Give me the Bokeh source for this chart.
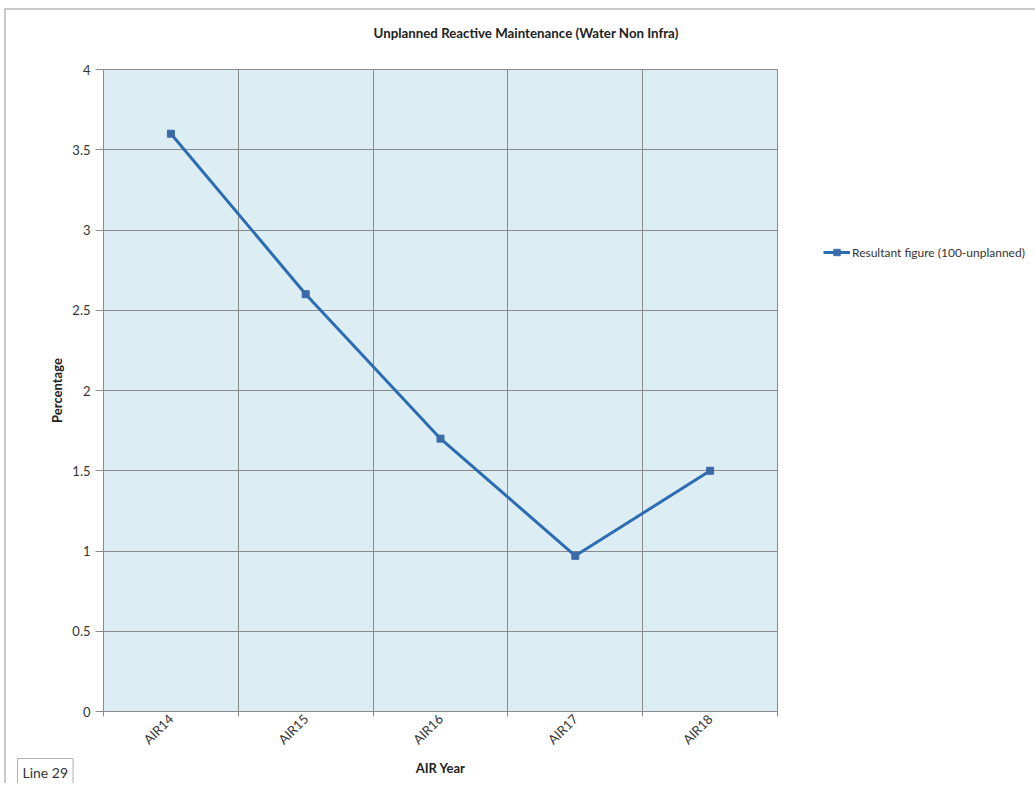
import math
from bokeh.plotting import figure
from bokeh.models import (Range1d, FixedTicker, NumeralTickFormatter, Legend, LegendItem, Title)
from bokeh.embed import file_html
from bokeh.resources import INLINE

categories = ["AIR14", "AIR15", "AIR16", "AIR17", "AIR18"]
resultant = [3.6, 2.6, 1.7, 0.97, 1.5]
y_ticks = [0, 0.5, 1, 1.5, 2, 2.5, 3, 3.5, 4]

FONT = "Lato"
GRID = "#8a8a8a"
LINE = "#2b6cb3"

p = figure(frame_width=674, frame_height=642, output_backend="svg", toolbar_location=None,
           x_range=Range1d(0, len(categories)), y_range=Range1d(0, 4),
           min_border_left=97, min_border_right=252, min_border_top=59, min_border_bottom=72,
           border_fill_color="white")
p.styles = {"border-top": "2px solid #c9c9c9", "border-left": "2px solid #c9c9c9",
            "margin-left": "4px", "margin-top": "8px"}

p.title.text = "Unplanned Reactive Maintenance (Water Non Infra)\n"
p.title.align = "left"
p.title.offset = 270
p.title.standoff = 22
p.title.vertical_align = "top"
p.title.text_font = FONT
p.title.text_font_size = "13.3px"
p.title.text_font_style = "bold"
p.title.text_color = "#222222"

p.background_fill_color = "#dcedf4"
p.outline_line_color = GRID

xs = [i + 0.5 for i in range(len(categories))]
r_line = p.line(xs, resultant, line_color=LINE, line_width=3)
r_mark = p.scatter(xs, resultant, marker="square", size=7, fill_color="#3a6aa8", line_color="#3a6aa8")

# grids at category boundaries
p.xgrid.ticker = FixedTicker(ticks=list(range(len(categories) + 1)))
p.ygrid.ticker = FixedTicker(ticks=y_ticks)
for g in (p.xgrid, p.ygrid):
    g.grid_line_color = GRID
    g.grid_line_width = 1

# x axis
xa = p.xaxis[0]
xa.ticker = FixedTicker(ticks=xs, minor_ticks=list(range(len(categories) + 1)))
xa.major_label_overrides = {x: c for x, c in zip(xs, categories)}
xa.major_label_orientation = math.pi / 4
xa.major_tick_out = 0
xa.major_tick_in = 0
xa.minor_tick_out = 5
xa.minor_tick_in = 0
xa.minor_tick_line_color = GRID
xa.axis_line_color = GRID
xa.major_label_text_font = FONT
xa.major_label_text_font_size = "13px"
xa.major_label_text_color = "#333333"
xa.major_label_standoff = 0
xa.axis_label = "AIR Year"
xa.axis_label_text_font = FONT
xa.axis_label_text_font_style = "bold"
xa.axis_label_text_font_size = "13px"
xa.axis_label_text_color = "#222222"
xa.axis_label_standoff = 4

# y axis
ya = p.yaxis[0]
ya.ticker = FixedTicker(ticks=y_ticks)
ya.formatter = NumeralTickFormatter(format="0.[0]")
ya.major_tick_out = 8
ya.major_tick_in = 0
ya.minor_tick_line_color = None
ya.major_tick_line_color = GRID
ya.axis_line_color = GRID
ya.major_label_text_font = FONT
ya.major_label_text_font_size = "13px"
ya.major_label_text_color = "#333333"
ya.major_label_standoff = 5
ya.axis_label = "Percentage"
ya.axis_label_text_font = FONT
ya.axis_label_text_font_style = "bold"
ya.axis_label_text_font_size = "13px"
ya.axis_label_text_color = "#222222"
ya.axis_label_standoff = 4

# "Line 29" box at bottom-left
line29 = Title(text="Line 29", align="left", offset=-86, standoff=-42, vertical_align="top",
               text_font=FONT, text_font_size="14px", text_font_style="normal",
               text_color="#333333", border_line_color="#b0b0b0",
               background_fill_color="white", padding=5)
p.add_layout(line29, "below")

legend = Legend(items=[LegendItem(label="Resultant figure (100-unplanned)", renderers=[r_line, r_mark])],
                location=(46, 451), border_line_color=None, background_fill_alpha=0,
                padding=0, margin=0, spacing=0, glyph_width=27, glyph_height=16,
                label_height=16, label_standoff=2, label_text_font=FONT,
                label_text_font_size="12px", label_text_color="#333333")
p.add_layout(legend, "right")

open("out.html", "w").write(file_html(p, INLINE))
